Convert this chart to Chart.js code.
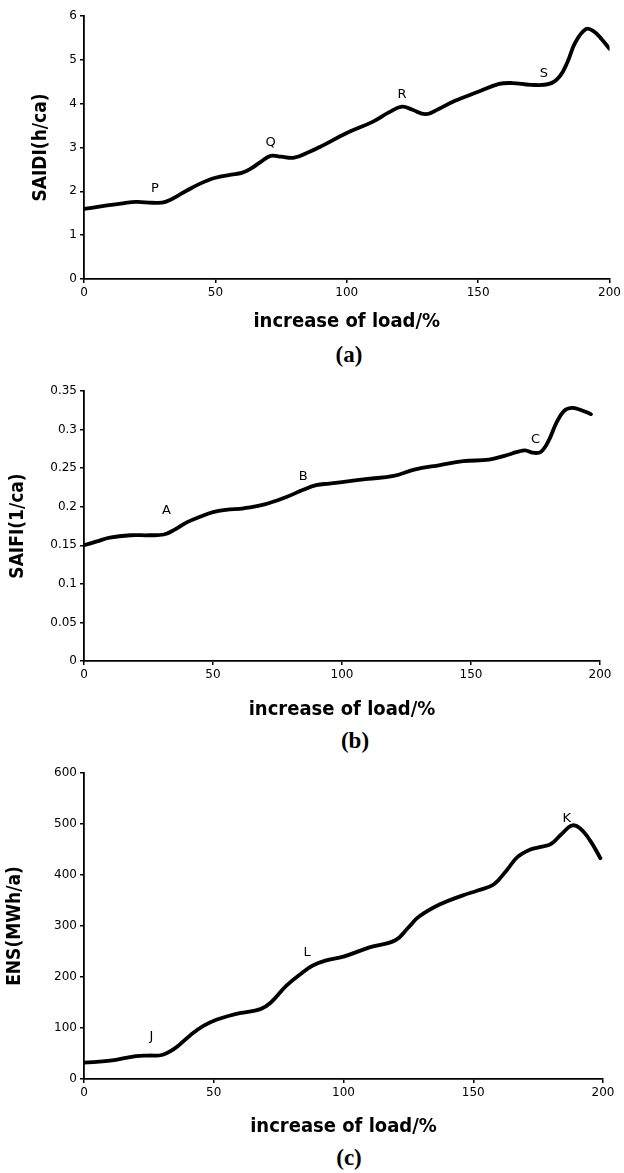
<!DOCTYPE html>
<html>
<head>
<meta charset="utf-8">
<script src="https://cdn.jsdelivr.net/npm/chart.js@4/dist/chart.umd.min.js"></script>
<style>
  html, body { margin: 0; padding: 0; background: #fff; }
  #wrap { position: relative; width: 624px; height: 1173px; background: #fff; overflow: hidden; }
  canvas { position: absolute; left: 0; }
  .cap { position: absolute; width: 80px; text-align: center; font-family: "Liberation Serif", "Times New Roman", serif; font-weight: bold; font-size: 23px; color: #000; line-height: 1; }
</style>
</head>
<body>
<div id="wrap">
  <canvas id="ca" width="624" height="334" style="top:0px"></canvas>
  <canvas id="cb" width="624" height="352" style="top:370px"></canvas>
  <canvas id="cc" width="624" height="384" style="top:755px"></canvas>
  <div class="cap" style="left:309px; top:343px;">(a)</div>
  <div class="cap" style="left:315px; top:729px;">(b)</div>
  <div class="cap" style="left:309px; top:1146px;">(c)</div>
</div>
<script>
// ---------- data ----------
const xTitle = 'increase of load/%';
const xTicks = [0, 50, 100, 150, 200];

const saidiX = [0, 7, 14, 20, 26, 31, 38, 44, 50, 56, 60, 63, 67, 71, 75, 80, 85, 90, 100, 110, 116, 121, 125, 130, 135, 141, 150, 158, 163, 170, 177, 181, 184, 187, 191, 194, 197, 200];
const saidiY = [1.60, 1.66, 1.72, 1.76, 1.74, 1.76, 1.98, 2.17, 2.31, 2.38, 2.42, 2.50, 2.66, 2.81, 2.79, 2.77, 2.88, 3.02, 3.33, 3.59, 3.80, 3.93, 3.86, 3.76, 3.88, 4.06, 4.27, 4.45, 4.47, 4.43, 4.45, 4.62, 4.95, 5.40, 5.70, 5.65, 5.47, 5.25];
const saidiMarkText = ['P', 'Q', 'R', 'S'];
const saidiMarkX = [27, 71, 121, 175];
const saidiMarkY = [2.07, 3.10, 4.21, 4.68];
const saidiYTicks = [0, 1, 2, 3, 4, 5, 6];

const saifiX = [0, 5, 10, 18, 25, 31, 35, 40, 45, 50, 55, 62, 70, 78, 85, 90, 95, 100, 110, 120, 128, 138, 147, 157, 163, 168, 171, 174, 177, 180, 183, 186, 189, 192, 196.5];
const saifiY = [0.150, 0.155, 0.160, 0.163, 0.163, 0.164, 0.170, 0.180, 0.187, 0.193, 0.196, 0.198, 0.203, 0.212, 0.222, 0.228, 0.230, 0.232, 0.236, 0.240, 0.248, 0.254, 0.259, 0.261, 0.266, 0.271, 0.273, 0.270, 0.271, 0.285, 0.308, 0.324, 0.328, 0.326, 0.320];
const saifiMarkText = ['A', 'B', 'C'];
const saifiMarkX = [32, 85, 175];
const saifiMarkY = [0.195, 0.239, 0.287];
const saifiYTicks = ['0', '0.05', '0.1', '0.15', '0.2', '0.25', '0.3', '0.35'];

const ensX = [0, 10, 20, 25, 30, 35, 41, 46, 51, 56, 60, 68, 72, 78, 84, 88, 93, 100, 110, 120, 125, 129, 137, 146, 152, 158, 163, 167, 172, 176, 180, 184, 188, 191, 195, 199];
const ensY = [32, 36, 45, 46, 47, 60, 86, 104, 116, 124, 129, 137, 150, 183, 208, 222, 232, 240, 258, 272, 297, 318, 342, 360, 370, 382, 410, 435, 450, 455, 461, 480, 497, 492, 468, 433];
const ensMarkText = ['J', 'L', 'K'];
const ensMarkX = [26, 86, 186];
const ensMarkY = [83, 248, 510];
const ensYTicks = [0, 100, 200, 300, 400, 500, 600];

// ---------- helpers ----------
const tickFont = { family: '"DejaVu Sans", Verdana, sans-serif', size: 12 };
const titleFamily = '"DejaVu Sans Condensed", "Liberation Sans Narrow", "Liberation Sans", Arial, sans-serif';

const markPlugin = {
  id: 'marks',
  afterDatasetsDraw(chart, args, opts) {
    const { ctx, scales } = chart;
    ctx.save();
    ctx.fillStyle = '#000';
    ctx.font = '13px "DejaVu Sans", Verdana, sans-serif';
    ctx.textAlign = 'center';
    ctx.textBaseline = 'middle';
    opts.text.forEach((t, i) => {
      ctx.fillText(t, scales.x.getPixelForValue(opts.x[i]), scales.y.getPixelForValue(opts.y[i]));
    });
    ctx.restore();
  }
};

function makeChart(id, xs, ys, yMax, yStep, yTickLabels, yTitle, marks, geom) {
  const data = xs.map((x, i) => ({ x: x, y: ys[i] }));
  return new Chart(document.getElementById(id), {
    type: 'line',
    data: { datasets: [{ data: data, borderColor: '#000', borderWidth: 3.8, pointRadius: 0, fill: false, tension: 0.4, borderCapStyle: 'round', borderJoinStyle: 'round' }] },
    options: {
      responsive: false,
      animation: false,
      devicePixelRatio: 1,
      layout: { padding: { top: geom.padTop, right: geom.padRight, left: 0, bottom: 0 } },
      plugins: { legend: { display: false }, tooltip: { enabled: false }, marks: marks },
      scales: {
        x: {
          type: 'linear', min: 0, max: 200,
          afterBuildTicks: (s) => { s.ticks = xTicks.map(v => ({ value: v })); },
          ticks: { color: '#000', font: tickFont, padding: 3, maxRotation: 0 },
          grid: { display: true, drawOnChartArea: false, drawTicks: true, tickLength: 4, color: '#000', lineWidth: 1.5 },
          border: { display: true, color: '#000', width: 1.8 },
          title: { display: true, text: xTitle, color: '#000', font: { family: titleFamily, size: 20, weight: 'bold', lineHeight: 1.2 }, padding: { top: 0, bottom: 0 } },
          afterFit: (s) => { s.height = geom.xH; }
        },
        y: {
          type: 'linear', min: 0, max: yMax,
          afterBuildTicks: (s) => { s.ticks = yTickLabels.map((v, i) => ({ value: i * yStep })); },
          ticks: { color: '#000', font: tickFont, padding: 3, callback: (v, i) => String(yTickLabels[i]) },
          grid: { display: true, drawOnChartArea: false, drawTicks: true, tickLength: 4, color: '#000', lineWidth: 1.5 },
          border: { display: true, color: '#000', width: 1.8 },
          title: { display: true, text: yTitle, color: '#000', font: { family: titleFamily, size: 19, weight: 'bold', lineHeight: 1.2 }, padding: { top: geom.yTitlePad, bottom: 0 } },
          afterFit: (s) => { s.width = 84; }
        }
      }
    },
    plugins: [markPlugin]
  });
}

makeChart('ca', saidiX, saidiY, 6, 1, saidiYTicks, 'SAIDI(h/ca)',
  { text: saidiMarkText, x: saidiMarkX, y: saidiMarkY },
  { padTop: 16, padRight: 11, xH: 55, yTitlePad: 30 });

makeChart('cb', saifiX, saifiY, 0.35, 0.05, saifiYTicks, 'SAIFI(1/ca)',
  { text: saifiMarkText, x: saifiMarkX, y: saifiMarkY },
  { padTop: 21, padRight: 24, xH: 61, yTitlePad: 7 });

makeChart('cc', ensX, ensY, 600, 100, ensYTicks, 'ENS(MWh/a)',
  { text: ensMarkText, x: ensMarkX, y: ensMarkY },
  { padTop: 18, padRight: 21, xH: 60, yTitlePad: 4 });
</script>
</body>
</html>
